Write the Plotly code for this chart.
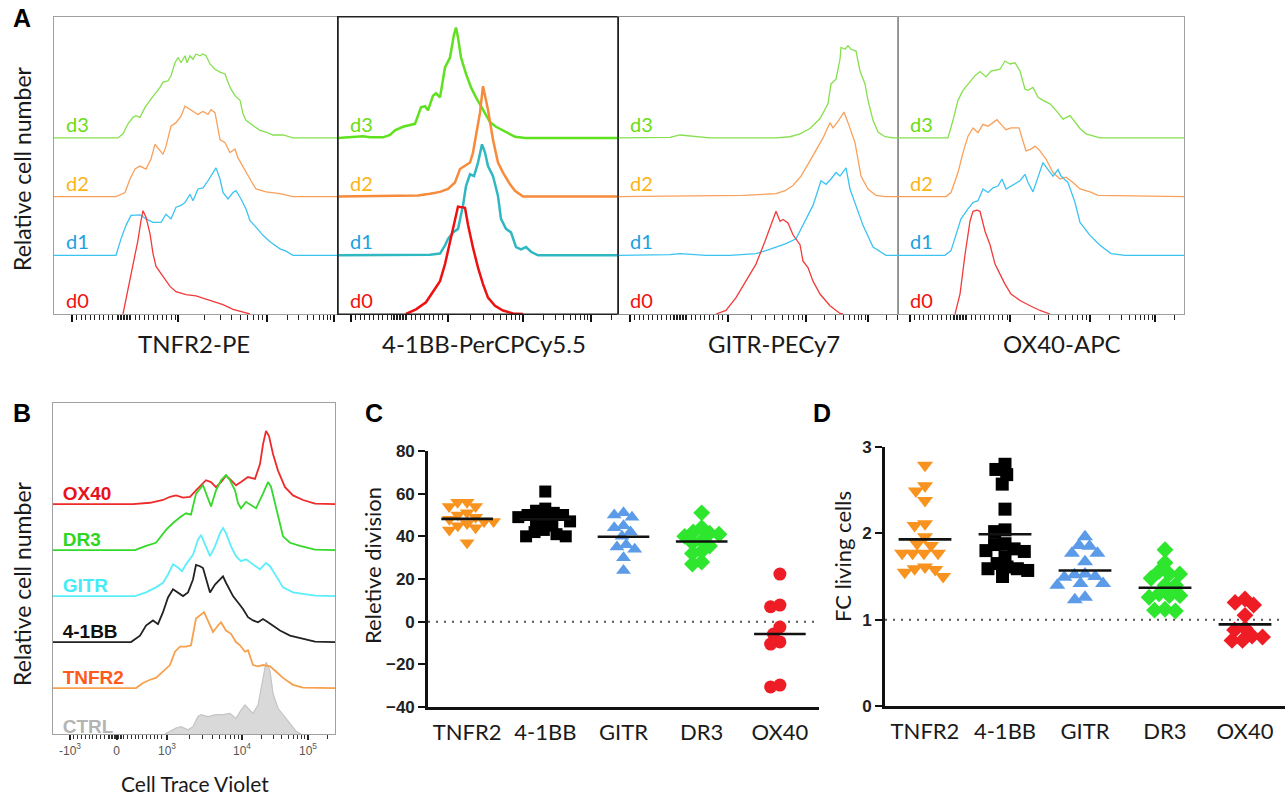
import numpy as np
import plotly.graph_objects as go

W, H = 1288, 797
TXT = "Lato, Carlito, 'Open Sans', sans-serif"
BLD = "'Liberation Sans', Arial, sans-serif"

# ---------------- DATA ----------------
# Panel A histograms (x = display channel, y = relative height above own baseline)
tnfr2_d3_x = [0,64,69,74,79,82,86,91,96,101,106,109,114,117,121,124,127,131,133,136,139,142,146,149,152,156,161,166,171,174,177,181,186,189,192,199,206,212,219,229,239,284]
tnfr2_d3_y = [0,0,0.07,0.24,0.35,0.38,0.35,0.52,0.64,0.75,0.86,0.95,0.97,1.06,1.28,1.37,1.28,1.40,1.28,1.40,1.34,1.43,1.40,1.43,1.40,1.26,1.17,1.12,1.09,0.95,0.83,0.72,0.64,0.41,0.30,0.21,0.13,0.10,0.05,0.05,0,0]
tnfr2_d2_x = [0,62,71,76,81,86,92,97,101,104,109,112,117,122,127,131,134,139,144,149,154,157,161,166,171,176,181,184,191,197,202,212,226,239,284]
tnfr2_d2_y = [0,0,0.07,0.30,0.47,0.52,0.47,0.64,0.89,0.83,0.72,0.86,1.20,1.26,1.37,1.54,1.51,1.45,1.40,1.45,1.40,1.48,1.43,0.97,0.92,0.75,0.81,0.66,0.44,0.27,0.13,0.08,0.05,0,0]
tnfr2_d1_x = [0,62,67,72,77,86,92,99,107,112,117,122,127,131,136,139,144,149,154,159,162,166,169,174,179,182,187,192,196,202,209,216,226,232,239,284]
tnfr2_d1_y = [0,0,0.28,0.51,0.68,0.69,0.62,0.56,0.56,0.70,0.62,0.82,0.85,0.90,1.04,0.93,1.13,1.15,1.27,1.41,1.49,1.30,1.07,0.96,1.07,1.10,0.96,0.79,0.59,0.48,0.34,0.23,0.11,0.07,0,0]
tnfr2_d0_x = [69,74,79,84,87,89,92,96,99,102,109,116,122,132,142,149,159,169,179,189,196]
tnfr2_d0_y = [0,0.41,0.86,1.26,1.59,1.76,1.65,1.37,1.03,0.81,0.64,0.47,0.38,0.33,0.31,0.27,0.21,0.16,0.08,0.03,0]

bb_d3_x = [0,12,25,32,45,52,57,65,77,83,87,90,95,98,102,107,112,116,118,120,123,128,133,138,145,152,158,165,172,177,187,280]
bb_d3_y = [0,0.02,0.03,0.01,0.01,0.05,0.13,0.19,0.24,0.52,0.54,0.47,0.72,0.76,0.69,1.20,1.37,1.76,1.88,1.71,1.37,1.09,0.86,0.69,0.47,0.27,0.19,0.13,0.07,0.02,0,0]
bb_d2_x = [0,80,92,102,110,117,122,127,132,135,138,142,145,148,150,155,160,165,172,177,185,280]
bb_d2_y = [0,0.02,0.05,0.08,0.13,0.24,0.47,0.52,0.58,0.75,1.03,1.43,1.88,1.65,1.48,0.97,0.58,0.41,0.21,0.10,0,0]
bb_d1_x = [0,92,102,107,110,115,120,125,128,132,136,140,144,147,150,155,160,163,168,173,178,183,188,193,200,280]
bb_d1_y = [0,0.01,0.03,0.17,0.28,0.39,0.45,0.85,1.18,1.38,1.35,1.58,1.89,1.75,1.52,1.35,1.01,0.62,0.45,0.39,0.14,0.10,0.14,0.06,0,0]
bb_d0_x = [68,78,88,95,102,107,112,117,120,127,130,135,140,145,150,157,165,175,185]
bb_d0_y = [0,0.08,0.20,0.39,0.56,0.85,1.24,1.63,1.83,1.81,1.52,1.13,0.79,0.51,0.28,0.14,0.06,0.01,0]

gitr_d3_x = [0,52,62,72,82,92,158,172,182,192,202,210,213,218,222,223,227,230,233,238,242,247,250,255,260,267,275,280]
gitr_d3_y = [0,0.01,0.05,0.03,0.02,0,0,0.02,0.07,0.16,0.33,0.58,0.92,1.00,1.34,1.54,1.51,1.57,1.51,1.48,1.14,0.92,0.64,0.30,0.10,0.02,0,0]
gitr_d2_x = [0,53,125,158,167,175,183,192,200,205,212,215,220,226,230,237,243,250,258,267,280]
gitr_d2_y = [0,0.01,0.02,0.05,0.10,0.19,0.35,0.61,0.86,1.00,1.26,1.17,1.28,1.44,1.26,0.92,0.35,0.13,0.02,0,0]
gitr_d1_x = [0,52,62,75,88,112,138,148,158,168,178,188,195,203,208,213,218,222,228,232,238,245,255,268,280]
gitr_d1_y = [0,0.01,0.03,0.01,0,0,0.03,0.08,0.14,0.20,0.28,0.62,0.85,1.27,1.21,1.30,1.41,1.35,1.49,1.13,0.85,0.51,0.14,0,0]
gitr_d0_x = [98,108,118,128,138,147,152,158,162,165,170,175,182,185,190,195,202,212,222,225]
gitr_d0_y = [0,0.06,0.28,0.56,0.85,1.24,1.46,1.75,1.58,1.61,1.55,1.35,1.18,0.90,0.79,0.56,0.34,0.14,0.01,0]

ox40_d3_x = [0,50,55,60,65,72,77,82,88,93,102,107,112,117,122,127,130,135,140,145,152,158,165,172,177,182,188,202,286]
ox40_d3_y = [0,0,0.30,0.64,0.81,0.95,1.06,1.13,1.04,1.14,1.17,1.31,1.26,1.28,1.14,0.83,0.81,0.86,0.69,0.64,0.58,0.47,0.32,0.38,0.27,0.16,0.07,0,0]
ox40_d2_x = [0,48,53,60,65,70,75,80,85,90,95,99,103,108,113,121,128,133,137,142,148,155,162,168,175,182,192,200,286]
ox40_d2_y = [0,0,0.07,0.41,0.75,1.03,1.17,1.09,1.23,1.20,1.26,1.31,1.23,1.14,1.17,1.17,0.78,0.81,0.86,0.78,0.64,0.41,0.30,0.33,0.24,0.13,0.08,0.02,0]
ox40_d1_x = [0,47,53,58,63,70,75,80,85,90,95,100,104,108,113,122,127,130,135,140,145,150,155,160,163,170,177,182,192,202,213,227,286]
ox40_d1_y = [0,0,0.08,0.34,0.62,0.79,0.90,0.93,1.13,1.07,1.15,1.18,1.30,1.13,1.18,1.27,1.38,1.24,1.08,1.35,1.58,1.46,1.35,1.46,1.35,1.24,0.90,0.56,0.34,0.17,0.03,0,0]
ox40_d0_x = [57,62,67,72,75,79,82,87,92,97,102,107,113,122,132,142,152]
ox40_d0_y = [0,0.34,1.01,1.58,1.75,1.77,1.75,1.41,1.18,0.85,0.68,0.51,0.34,0.23,0.14,0.06,0]

# Panel B histograms (Cell Trace Violet)
b_ctrl_x = [112,117,123,128,135,140,145,148,155,163,170,177,183,188,192,195,200,205,210,213,217,220,225,230,237,243,248]
b_ctrl_y = [0,0.06,0.13,0.16,0.09,0.16,0.38,0.42,0.38,0.42,0.42,0.45,0.34,0.52,0.63,0.56,0.45,0.63,1.17,1.56,1.38,0.88,0.56,0.42,0.24,0.06,0]
b_tnfr2_x = [0,83,90,97,103,110,117,122,127,133,138,143,147,151,154,160,165,168,173,178,183,187,192,195,200,205,210,217,223,230,240,250,282]
b_tnfr2_y = [0,0,0.11,0.18,0.22,0.36,0.50,0.79,0.90,0.90,0.93,1.51,1.58,1.65,1.51,1.22,1.36,1.43,1.25,1.18,1.00,0.93,0.79,0.82,0.50,0.47,0.50,0.47,0.36,0.22,0.07,0.01,0]
b_bb_x = [0,78,87,93,100,105,110,115,120,125,130,135,140,143,147,150,153,157,162,167,170,173,180,185,190,195,200,205,210,215,220,227,237,250,262,282]
b_bb_y = [0,0,0.14,0.36,0.47,0.39,0.65,0.97,1.15,1.08,1.00,1.08,1.36,1.68,1.65,1.61,1.36,1.08,1.25,1.36,1.43,1.29,1.00,0.86,0.72,0.54,0.47,0.43,0.50,0.43,0.36,0.25,0.14,0.07,0.01,0]
b_gitr_x = [0,82,93,103,110,115,120,125,129,133,140,145,148,152,157,162,167,170,173,178,183,188,193,200,207,213,217,223,230,240,262,282]
b_gitr_y = [0,0,0.08,0.19,0.29,0.47,0.69,0.62,0.54,0.69,0.90,1.23,1.33,1.12,0.87,1.08,1.37,1.48,1.37,1.08,0.87,0.76,0.80,0.69,0.58,0.72,0.65,0.44,0.19,0.08,0.01,0]
b_dr3_x = [0,82,93,103,113,120,128,133,138,143,150,153,158,163,168,173,177,182,185,188,193,198,203,210,215,218,223,230,237,247,262,282]
b_dr3_y = [0,0,0.09,0.16,0.44,0.59,0.73,0.80,0.77,1.23,1.41,1.23,0.95,1.30,1.52,1.63,1.52,1.30,1.02,0.91,1.05,0.98,0.91,1.23,1.48,1.38,0.95,0.30,0.16,0.09,0.01,0]
b_ox40_x = [0,80,97,110,117,123,130,137,143,150,153,158,163,168,173,178,183,188,195,202,207,210,213,216,220,225,232,240,250,262,282]
b_ox40_y = [0,0,0.03,0.09,0.16,0.19,0.14,0.16,0.30,0.44,0.52,0.48,0.37,0.48,0.62,0.52,0.41,0.48,0.59,0.55,0.87,1.30,1.59,1.48,1.09,0.73,0.37,0.19,0.09,0.01,0]

# Panels C and D: scatter data
cats = ["TNFR2", "4-1BB", "GITR", "DR3", "OX40"]
c_tnfr2 = [56, 56, 54, 54, 51, 50, 49, 48, 47, 47, 46, 45, 44, 43, 37]
c_41bb = [61, 53, 52, 51, 50, 50, 49, 48, 47, 47, 45, 43, 42, 41, 40, 40]
c_gitr = [51, 50, 49, 45, 44, 42, 40, 36, 35, 34, 30, 24]
c_dr3 = [51, 44, 42, 41.5, 41, 40, 38, 37, 35.5, 33, 32, 28, 27]
c_ox40 = [22.3, 7.8, 7.0, -2.5, -5.8, -9.5, -10.5, -29.7, -30.6]
c_means = [48.2, 48.0, 39.8, 37.6, -5.8]

d_tnfr2 = [2.79, 2.55, 2.49, 2.38, 2.11, 2.09, 1.96, 1.88, 1.86, 1.77, 1.77, 1.77, 1.77, 1.61, 1.59, 1.58, 1.55, 1.50]
d_41bb = [2.80, 2.74, 2.68, 2.57, 2.28, 2.04, 2.02, 1.88, 1.87, 1.82, 1.80, 1.79, 1.73, 1.65, 1.61, 1.59, 1.59, 1.57, 1.50]
d_gitr = [1.96, 1.86, 1.85, 1.77, 1.77, 1.67, 1.53, 1.52, 1.50, 1.49, 1.42, 1.42, 1.40, 1.26, 1.23]
d_dr3 = [1.81, 1.66, 1.56, 1.53, 1.53, 1.48, 1.40, 1.40, 1.30, 1.28, 1.28, 1.26, 1.12, 1.11, 1.10]
d_ox40 = [1.24, 1.20, 1.17, 1.05, 0.90, 0.88, 0.81, 0.80, 0.76, 0.76]
d_means = [1.93, 1.99, 1.57, 1.37, 0.945]

a_titles = ["TNFR2-PE", "4-1BB-PerCPCy5.5", "GITR-PECy7", "OX40-APC"]
a_days = ["d0", "d1", "d2", "d3"]
b_labels = ["CTRL", "TNFR2", "4-1BB", "GITR", "DR3", "OX40"]
b_tick_text = ["-10<sup>3</sup>", "0", "10<sup>3</sup>", "10<sup>4</sup>", "10<sup>5</sup>"]
c_ticks = [-40, -20, 0, 20, 40, 60, 80]
d_ticks = [0, 1, 2, 3]

# ---------------- STYLE / LAYOUT ----------------
def xd(a, b):
    return [a / W, b / W]

def yd(top, bot):
    return [1 - bot / H, 1 - top / H]

def flow_ticks(neg, zero, p1, p2, p3, end, lin=4.5):
    major = [neg, p1, p2, p3]
    minor = list(np.arange(neg + lin, zero - 8, lin))
    minor += list(np.arange(zero - 7, zero + 7.5, 1.5))
    minor += list(np.arange(zero + 11, p1 - 2, lin))
    for a, b in ((p1, p2), (p2, p3)):
        minor += [a + (b - a) * np.log10(k) for k in range(2, 10)]
    w = p3 - p2
    minor += [p3 + w * np.log10(k) for k in range(2, 10) if p3 + w * np.log10(k) < end]
    return major, [float(m) for m in minor]

def swarm(vals, ppu, diam):
    v = np.asarray(vals, float)
    ys = v * ppu
    order = np.argsort(-v, kind="stable")
    px, py = [], []
    out = np.zeros(len(v))
    for i in order:
        y = ys[i]
        cands = [0.0]
        for xj, yj in zip(px, py):
            dy = abs(y - yj)
            if dy < diam:
                dx = np.sqrt(diam * diam - dy * dy)
                cands += [xj - dx, xj + dx]
        cands.sort(key=lambda c: (abs(c), c))
        chosen = cands[-1]
        for c in cands:
            if all((c - xj) ** 2 + (y - yj) ** 2 >= diam * diam - 1e-6 for xj, yj in zip(px, py)):
                chosen = c
                break
        out[i] = chosen
        px.append(chosen)
        py.append(y)
    return out

fig = go.Figure()
layout = dict(width=W, height=H, margin=dict(l=0, r=0, t=0, b=0, pad=0, autoexpand=False),
              paper_bgcolor="white", plot_bgcolor="white", showlegend=False,
              font=dict(family=TXT, color="#1a1a1a"))
annotations = []
shapes = []

def ann(x, y, text, size, family=TXT, angle=0, color="#1a1a1a", weight="normal"):
    annotations.append(dict(x=x / W, y=1 - y / H, xref="paper", yref="paper", text=text,
                            showarrow=False, xanchor="center", yanchor="middle", textangle=angle,
                            font=dict(family=family, size=size, color=color, weight=weight)))

# ---- Panel A ----
a_left = [54, 338, 618, 898]
a_right = [338, 618, 898, 1184]
a_decades = [(18, 70, 124, 213, 280), (13, 62, 110, 185, 253), (12, 62, 110, 188, 250), (12, 62, 112, 192, 257)]
a_curves = [
    [(tnfr2_d0_x, tnfr2_d0_y), (tnfr2_d1_x, tnfr2_d1_y), (tnfr2_d2_x, tnfr2_d2_y), (tnfr2_d3_x, tnfr2_d3_y)],
    [(bb_d0_x, bb_d0_y), (bb_d1_x, bb_d1_y), (bb_d2_x, bb_d2_y), (bb_d3_x, bb_d3_y)],
    [(gitr_d0_x, gitr_d0_y), (gitr_d1_x, gitr_d1_y), (gitr_d2_x, gitr_d2_y), (gitr_d3_x, gitr_d3_y)],
    [(ox40_d0_x, ox40_d0_y), (ox40_d1_x, ox40_d1_y), (ox40_d2_x, ox40_d2_y), (ox40_d3_x, ox40_d3_y)],
]
thin_cols = ["#f23a3a", "#3cc3f2", "#f9a05a", "#86e04e"]
bold_cols = ["#ee1111", "#2fb8c2", "#f68b3c", "#5fe11f"]
a_cols = [thin_cols, bold_cols, thin_cols, thin_cols]
a_widths = [1.3, 2.5, 1.3, 1.3]
a_frames = ["#a0a0a0", "#222222", "#909090", "#a0a0a0"]
day_text_cols = ["#f01010", "#1da1e2", "#fbb416", "#6cdc14"]
a_label_x = [194, 484, 774, 1062]

for p in range(4):
    n = p + 1
    s = "" if n == 1 else str(n)
    width = a_right[p] - a_left[p]
    major, minor = flow_ticks(*a_decades[p], end=width)
    layout["xaxis" + s] = dict(domain=xd(a_left[p], a_right[p]), range=[0, width], anchor="y" + s,
                               showgrid=False, zeroline=False, showline=True, mirror=True,
                               linecolor=a_frames[p], linewidth=1.2, ticks="outside", tickvals=major,
                               ticklen=7, tickwidth=2.2, tickcolor="#111", showticklabels=False,
                               automargin=False,
                               minor=dict(tickmode="array", tickvals=minor, ticks="outside", ticklen=5,
                                          tickwidth=1, tickcolor="#222"))
    layout["yaxis" + s] = dict(domain=yd(17, 314), range=[0, 5.06], anchor="x" + s, showgrid=False,
                               zeroline=False, showline=True, mirror=True, linecolor=a_frames[p],
                               linewidth=1.2, showticklabels=False, ticks="", automargin=False)
    for k in (3, 2, 1, 0):
        cx, cy = a_curves[p][k]
        fig.add_trace(go.Scatter(x=cx, y=np.array(cy) + k, mode="lines",
                                 line=dict(color=a_cols[p][k], width=a_widths[p]),
                                 xaxis="x" + s, yaxis="y" + s, hoverinfo="skip"))
        annotations.append(dict(x=10, y=k + 0.24, xref="x" + s, yref="y" + s, text=a_days[k],
                                showarrow=False, xanchor="left", yanchor="middle",
                                font=dict(family=TXT, size=20, color=day_text_cols[k])))
    ann(a_label_x[p], 344, a_titles[p], 24)

shapes.append(dict(type="rect", xref="paper", yref="paper", x0=338 / W, x1=618 / W,
                   y0=1 - 314 / H, y1=1 - 17 / H, line=dict(color="#222", width=1.2), layer="above"))

# ---- Panel B ----
b_curves = [(b_ctrl_x, b_ctrl_y), (b_tnfr2_x, b_tnfr2_y), (b_bb_x, b_bb_y),
            (b_gitr_x, b_gitr_y), (b_dr3_x, b_dr3_y), (b_ox40_x, b_ox40_y)]
b_line_cols = ["#c4c4c4", "#f7a04e", "#222222", "#5ceefa", "#35d92a", "#ee2a2a"]
b_text_cols = ["#b4b4b4", "#ff5b1c", "#111111", "#45ecf5", "#2fd61f", "#e8121c"]
b_lift = [0.13, 0.2, 0.2, 0.2, 0.2, 0.2]
bmaj, bmin = flow_ticks(17, 63.5, 114, 189, 255, 282, lin=3.8)
b_tickvals = [17, 63.5, 114, 189, 255]
layout["xaxis5"] = dict(domain=xd(53, 335), range=[0, 282], anchor="y5", showgrid=False, zeroline=False,
                        showline=True, mirror=True, linecolor="#a0a0a0", linewidth=1.2, ticks="outside",
                        tickvals=b_tickvals, ticktext=b_tick_text, ticklen=5, tickwidth=1.6, tickcolor="#222",
                        tickfont=dict(family=BLD, size=12, color="#555555"), automargin=False,
                        minor=dict(tickmode="array", tickvals=bmin, ticks="outside", ticklen=4,
                                   tickwidth=1, tickcolor="#333"))
layout["yaxis5"] = dict(domain=yd(403, 734), range=[0, 7.2], anchor="x5", showgrid=False, zeroline=False,
                        showline=True, mirror=True, linecolor="#a0a0a0", linewidth=1.2,
                        showticklabels=False, ticks="", automargin=False)
cx, cy = b_curves[0]
fig.add_trace(go.Scatter(x=cx, y=cy, mode="lines", fill="tozeroy", fillcolor="#d9d9d9",
                         line=dict(color=b_line_cols[0], width=1.2), xaxis="x5", yaxis="y5", hoverinfo="skip"))
for k in range(5, 0, -1):
    cx, cy = b_curves[k]
    fig.add_trace(go.Scatter(x=cx, y=np.array(cy) + k, mode="lines",
                             line=dict(color=b_line_cols[k], width=1.8),
                             xaxis="x5", yaxis="y5", hoverinfo="skip"))
fig.add_trace(go.Scatter(x=[9.7] * 6, y=[k + b_lift[k] for k in range(6)], mode="text", text=b_labels,
                         textposition="middle right", cliponaxis=True,
                         textfont=dict(family=BLD, size=19, color=b_text_cols, weight="bold"),
                         xaxis="x5", yaxis="y5", hoverinfo="skip"))

# ---- Panels C and D ----
grp_cols = ["#f7931e", "#000000", "#5b9be8", "#2ee62e", "#ee1c24"]

def scatter_panel(n, groups, means, symbols, sizes, ppu, cat_px, diam, ymin, ymax, ticks, dom_x, dom_y, ref):
    s = str(n)
    layout["xaxis" + s] = dict(domain=xd(*dom_x), range=[-0.5, 4.5], anchor="y" + s, showgrid=False,
                               zeroline=False, showline=True, linecolor="#111", linewidth=2.6,
                               tickvals=list(range(5)), ticktext=cats, ticks="", ticklabelstandoff=4,
                               automargin=False,
                               tickfont=dict(family=TXT, size=22, color="#1a1a1a"))
    layout["yaxis" + s] = dict(domain=yd(*dom_y), range=[ymin, ymax], anchor="x" + s, showgrid=False,
                               zeroline=False, showline=True, linecolor="#111", linewidth=2.6,
                               tickvals=ticks, ticks="outside", ticklen=7, tickwidth=2.4, tickcolor="#111",
                               automargin=False,
                               tickfont=dict(family=BLD, size=17, color="#222", weight="bold"))
    shapes.append(dict(type="line", xref="x" + s, yref="y" + s, x0=-0.5, x1=4.5, y0=ref, y1=ref,
                       line=dict(color="#555", width=2, dash="2px,6px"), layer="below"))
    for i, vals in enumerate(groups):
        off = swarm(vals, ppu, diam) / cat_px
        fig.add_trace(go.Scatter(x=i + off, y=vals, mode="markers", cliponaxis=False,
                                 marker=dict(symbol=symbols[i], size=sizes[i], color=grp_cols[i],
                                             line=dict(width=0)),
                                 xaxis="x" + s, yaxis="y" + s, hoverinfo="skip"))
    for i, m in enumerate(means):
        fig.add_trace(go.Scatter(x=[i - 0.33, i + 0.33], y=[m, m], mode="lines",
                                 line=dict(color="#111", width=2.6), xaxis="x" + s, yaxis="y" + s,
                                 hoverinfo="skip"))

scatter_panel(6, [c_tnfr2, c_41bb, c_gitr, c_dr3, c_ox40], c_means,
              ["triangle-down", "square", "triangle-up", "diamond", "circle"], [13, 12, 13, 13, 13],
              256 / 120, 78.2, 9.5, -40, 80, c_ticks, (428, 819), (451, 707), 0)
scatter_panel(7, [d_tnfr2, d_41bb, d_gitr, d_dr3, d_ox40], d_means,
              ["triangle-down", "square", "triangle-up", "diamond", "diamond"], [14, 13, 14, 13, 13],
              259 / 3, 80, 10.5, 0, 3, d_ticks, (885, 1285), (447, 706), 1)

# ---- Text ----
ann(22, 18, "A", 25, family=BLD, weight="bold", color="#000")
ann(22, 413, "B", 25, family=BLD, weight="bold", color="#000")
ann(374, 413, "C", 25, family=BLD, weight="bold", color="#000")
ann(822, 413, "D", 25, family=BLD, weight="bold", color="#000")
ann(22, 169, "Relative cell number", 23, angle=-90)
ann(22, 584, "Relative cell number", 23, angle=-90)
ann(372, 566, "Reletive division", 22, angle=-90)
ann(842, 557, "FC living cells", 22, angle=-90)
ann(195, 783, "Cell Trace Violet", 21)

layout["annotations"] = annotations
layout["shapes"] = shapes
fig.update_layout(**layout)
fig.write_html("out.html", config={"displayModeBar": False},
               post_script="document.body.style.margin='0';document.body.style.padding='0';"
                           "document.body.style.overflow='hidden';")
